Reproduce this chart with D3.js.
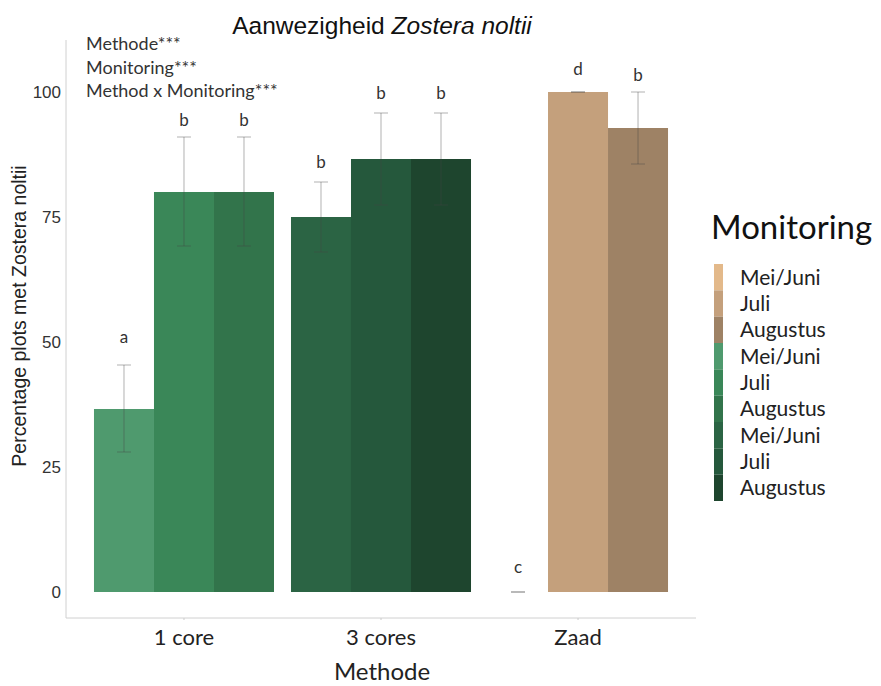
<!DOCTYPE html>
<html><head><meta charset="utf-8">
<script src="https://cdn.jsdelivr.net/npm/d3@7"></script>
<style>body{margin:0;background:#fff}</style>
</head><body>
<svg id="c" width="881" height="686"></svg>
<script>
const methods = ["1 core", "3 cores", "Zaad"];
const months = ["Mei/Juni", "Juli", "Augustus"];
const values = [[36.6, 80, 80], [75, 86.6, 86.6], [0, 100, 92.8]];
const errLow = [[28, 69.2, 69.2], [68, 77.4, 77.4], [0, 100, 85.6]];
const errHigh = [[45.4, 91, 91], [82, 95.8, 95.8], [0, 100, 100]];
const letters = [["a", "b", "b"], ["b", "b", "b"], ["c", "d", "b"]];
const letterY = [[51, 94.4, 94.4], [86, 99.8, 99.8], [5, 104.6, 103.4]];
const colors = [["#4f9a6e", "#3a8758", "#32744b"], ["#2b6444", "#25583c", "#1e452e"], ["#e3b98a", "#c4a07c", "#9e8265"]];
const yTicks = [0, 25, 50, 75, 100];
const annotations = ["Methode***", "Monitoring***", "Method x Monitoring***"];
const legendOrder = [2, 0, 1];

(function () {
const svg = d3.select("#c");
const pL = 66, pR = 696, pT = 40, pB = 618;
const x = d3.scaleBand().domain(methods).range([pL, pR]).paddingInner(0.0863).paddingOuter(0.142);
const y = d3.scaleLinear().domain([-5.2, 110.4]).range([pB, pT]);
const xs = d3.scaleBand().domain(months).range([0, x.bandwidth()]);
const sans = "Liberation Sans, Arial, sans-serif";
const cal = "Lato, Carlito, sans-serif";

svg.append("line").attr("x1", pL).attr("x2", pL).attr("y1", pT).attr("y2", pB).attr("stroke", "#d0d0d0");
svg.append("line").attr("x1", pL).attr("x2", pR).attr("y1", pB).attr("y2", pB).attr("stroke", "#d0d0d0");

const yAxis = d3.axisLeft(y).tickValues(yTicks).tickSize(0).tickPadding(5);
const gy = svg.append("g").attr("transform", `translate(${pL},0)`).call(yAxis);
gy.select(".domain").remove();
gy.selectAll("text").attr("font-family", sans).attr("font-size", 17).attr("fill", "#333");

const xAxis = d3.axisBottom(x).tickSize(2).tickPadding(9);
const gx = svg.append("g").attr("transform", `translate(0,${pB})`).call(xAxis);
gx.select(".domain").remove();
gx.selectAll("line").attr("stroke", "#ccc");
gx.selectAll("text").attr("font-family", cal).attr("font-size", 22).attr("fill", "#222");

methods.forEach((m, i) => {
  const g = svg.append("g").attr("transform", `translate(${x(m)},0)`);
  months.forEach((mo, j) => {
    const v = values[i][j];
    if (v > 0) {
      g.append("rect").attr("x", xs(mo)).attr("width", xs.bandwidth())
        .attr("y", y(v)).attr("height", y(0) - y(v))
        .attr("fill", colors[i][j]);
    }
  });
  months.forEach((mo, j) => {
    const cx = xs(mo) + xs.bandwidth() / 2;
    const lo = y(errLow[i][j]), hi = y(errHigh[i][j]);
    const eg = g.append("g").attr("stroke", "#444").attr("stroke-opacity", 0.35).attr("stroke-width", 1.2);
    eg.append("line").attr("x1", cx).attr("x2", cx).attr("y1", lo).attr("y2", hi);
    eg.append("line").attr("x1", cx - 7).attr("x2", cx + 7).attr("y1", lo).attr("y2", lo);
    eg.append("line").attr("x1", cx - 7).attr("x2", cx + 7).attr("y1", hi).attr("y2", hi);
    g.append("text").attr("x", cx).attr("y", y(letterY[i][j])).attr("dy", "0.35em")
      .attr("text-anchor", "middle").attr("font-family", cal)
      .attr("font-size", 17).attr("fill", "#333").text(letters[i][j]);
  });
});

const t = svg.append("text").attr("x", 382).attr("y", 34).attr("text-anchor", "middle")
  .attr("font-family", sans).attr("font-size", 24.5).attr("fill", "#111");
t.append("tspan").text("Aanwezigheid ");
t.append("tspan").attr("font-style", "italic").text("Zostera noltii");

annotations.forEach((a, k) => {
  svg.append("text").attr("x", 86).attr("y", 44 + k * 23.5).attr("dy", "0.35em")
    .attr("font-family", cal).attr("font-size", 18).attr("fill", "#333").text(a);
});

svg.append("text").attr("transform", "translate(26,316) rotate(-90)").attr("text-anchor", "middle")
  .attr("font-family", sans).attr("font-size", 19.5).attr("fill", "#222")
  .text("Percentage plots met Zostera noltii");
svg.append("text").attr("x", 382).attr("y", 680).attr("text-anchor", "middle")
  .attr("font-family", cal).attr("font-size", 24).attr("fill", "#222").text("Methode");

svg.append("text").attr("x", 711).attr("y", 239).attr("font-family", cal)
  .attr("font-size", 33).attr("fill", "#111").text("Monitoring");
const items = [];
legendOrder.forEach(i => months.forEach((mo, j) => items.push({ label: mo, color: colors[i][j] })));
const ly = d3.scaleBand().domain(d3.range(items.length)).range([264, 501]);
items.forEach((it, k) => {
  svg.append("rect").attr("x", 714).attr("y", ly(k)).attr("width", 9).attr("height", ly.bandwidth())
    .attr("fill", it.color);
  svg.append("text").attr("x", 740).attr("y", ly(k) + ly.bandwidth() / 2).attr("dy", "0.35em")
    .attr("font-family", cal).attr("font-size", 21).attr("fill", "#222").text(it.label);
});
})();
</script>
</body></html>
